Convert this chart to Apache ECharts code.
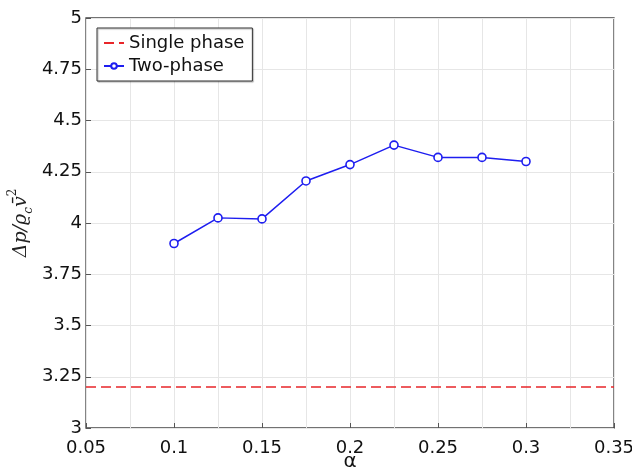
<!DOCTYPE html>
<html><head><meta charset="utf-8">
<script src="https://cdn.jsdelivr.net/npm/echarts@6/dist/echarts.min.js"></script>
<style>html,body{margin:0;padding:0;background:#fff}#c{width:632px;height:469px}</style>
</head><body><div id="c"></div>
<script>
const alphaX = [0.1, 0.125, 0.15, 0.175, 0.2, 0.225, 0.25, 0.275, 0.3];
const twoPhase = [3.90, 4.025, 4.02, 4.205, 4.285, 4.38, 4.32, 4.32, 4.30];
const singleX = [0.05, 0.35];
const singleY = [3.2, 3.2];
const xTicks = [0.05, 0.1, 0.15, 0.2, 0.25, 0.3, 0.35];
const yTicks = [3, 3.25, 3.5, 3.75, 4, 4.25, 4.5, 4.75, 5];

const chart = echarts.init(document.getElementById('c'));
const font = 'DejaVu Sans';
chart.setOption({
  animation: false,
  grid: {left: 86, right: 18, top: 18, bottom: 41, containLabel: false, outerBoundsMode: 'none',
    show: true, borderColor: '#444', borderWidth: 1.3, backgroundColor: 'transparent'},
  legend: {
    orient: 'vertical', left: 97, top: 28, padding: [6, 8, 6, 6],
    itemWidth: 20, itemHeight: 7, itemGap: 5,
    borderColor: '#333', borderWidth: 1, backgroundColor: '#fff',
    shadowColor: 'rgba(0,0,0,0.3)', shadowOffsetX: 1, shadowOffsetY: 1, shadowBlur: 1,
    textStyle: {fontFamily: font, fontSize: 18, color: '#111'},
    data: [
      {name: 'Single phase', itemStyle: {opacity: 0}},
      {name: 'Two-phase'}
    ]
  },
  xAxis: {
    type: 'value', min: 0.05, max: 0.35, interval: 0.05,
    name: 'α', nameLocation: 'middle', nameGap: 24, nameMoveOverlap: false,
    nameTextStyle: {fontFamily: font, fontSize: 20, color: '#111'},
    axisLine: {show: false},
    axisTick: {inside: true, length: 5, lineStyle: {color: '#555'}},
    axisLabel: {fontFamily: font, fontSize: 18, color: '#111', margin: 11,
      formatter: v => xTicks.includes(+v.toFixed(3)) ? String(+v.toFixed(3)) : ''},
    splitLine: {show: true, lineStyle: {color: '#e6e6e6'}},
    minorTick: {show: false, splitNumber: 2},
    minorSplitLine: {show: true, lineStyle: {color: '#e6e6e6'}}
  },
  yAxis: {
    type: 'value', min: 3, max: 5, interval: 0.25,
    name: '{i|Δp/ϱ}{s|c}{i|v̄}{p|2}', nameLocation: 'middle', nameGap: 51, nameRotate: 90, nameMoveOverlap: false,
    nameTextStyle: {
      color: '#222',
      rich: {
        i: {fontFamily: 'DejaVu Serif', fontStyle: 'italic', fontSize: 19, lineHeight: 28, color: '#222'},
        s: {fontFamily: 'DejaVu Serif', fontStyle: 'italic', fontSize: 12, lineHeight: 28, verticalAlign: 'bottom', padding: [9, 0, 0, 0], color: '#222'},
        p: {fontFamily: 'DejaVu Serif', fontSize: 12, lineHeight: 28, verticalAlign: 'top', padding: [0, 0, 11, 0], color: '#222'}
      }
    },
    axisLine: {show: false},
    axisTick: {inside: true, length: 5, lineStyle: {color: '#555'}},
    axisLabel: {fontFamily: font, fontSize: 18, color: '#111', margin: 4,
      formatter: v => String(+v.toFixed(3))},
    splitLine: {show: true, lineStyle: {color: '#e6e6e6'}}
  },
  series: [
    {
      name: 'Single phase', type: 'line', symbol: 'none',
      data: singleX.map((x, i) => [x, singleY[i]]),
      lineStyle: {color: '#e8262a', width: 1.6, type: [10, 5]},
      itemStyle: {color: '#e8262a'}
    },
    {
      name: 'Two-phase', type: 'line', symbol: 'circle', symbolSize: 8,
      data: alphaX.map((x, i) => [x, twoPhase[i]]),
      lineStyle: {color: '#1e1ef0', width: 1.5},
      itemStyle: {color: '#fff', borderColor: '#1e1ef0', borderWidth: 1.6}
    }
  ]
});
</script></body></html>
